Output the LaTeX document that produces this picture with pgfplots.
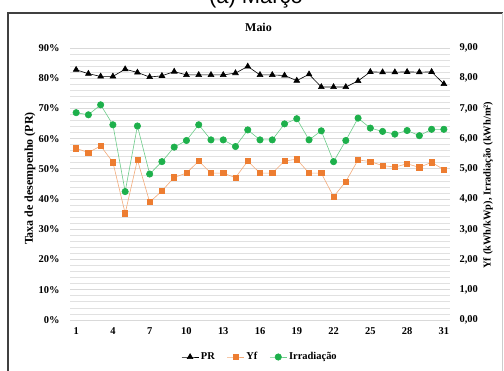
\documentclass[border=0pt]{standalone}
\usepackage{pgfplots}
\usepackage{pgfplotstable}
\pgfplotsset{compat=1.18}
\usepackage{fontspec}
\setmainfont{Liberation Serif}
\newfontfamily\arialfont{Liberation Sans}
\definecolor{cYf}{HTML}{ED7D31}
\definecolor{cIr}{HTML}{1DB04B}
\definecolor{gridc}{HTML}{D9D9D9}

\pgfplotstableread{
day pr yf irr
1 82.8 5.68 6.86
2 81.5 5.54 6.79
3 80.6 5.76 7.12
4 80.6 5.22 6.46
5 83.0 3.53 4.25
6 81.9 5.30 6.42
7 80.4 3.90 4.83
8 80.8 4.27 5.24
9 82.2 4.72 5.72
10 81.1 4.86 5.94
11 81.1 5.26 6.46
12 81.1 4.86 5.96
13 81.1 4.86 5.96
14 81.7 4.71 5.74
15 83.9 5.26 6.29
16 81.1 4.86 5.96
17 81.1 4.86 5.96
18 80.9 5.26 6.49
19 79.2 5.32 6.66
20 81.3 4.86 5.96
21 77.1 4.86 6.26
22 77.1 4.08 5.24
23 77.1 4.58 5.94
24 79.1 5.30 6.68
25 82.1 5.24 6.35
26 82.0 5.11 6.24
27 82.0 5.06 6.15
28 82.1 5.17 6.27
29 82.0 5.05 6.10
30 82.1 5.22 6.31
31 78.1 4.97 6.31
}\datatable

\pgfplotsset{
  base/.style={
    at={(70bp,50bp)}, anchor=south west, scale only axis,
    width=380bp, height=272bp, xmin=0.5, xmax=31.5,
    axis line style={draw=none}, major tick length=0pt, minor tick length=0pt,
    tick label style={font=\bfseries\fontsize{10.5}{12}\selectfont},
    /pgf/number format/assume math mode=true,
  }
}

\begin{document}
\begin{tikzpicture}[x=1bp,y=1bp]
\path[use as bounding box] (0,0) rectangle (504,370);
\node[font=\arialfont\fontsize{22}{24}\selectfont, anchor=base] at (256,366.5) {(a) Março};
\draw[line width=1.5bp, color=black!75] (8,-5) -- (8,357) -- (503,357);
\draw[line width=0.8bp, color=black!20] (502,357) -- (502,-5);
\node[font=\bfseries\fontsize{12}{14}\selectfont] at (258.5,343) {Maio};

\begin{axis}[base,
  ymin=0, ymax=90, ytick={0,10,...,90}, minor y tick num=4,
  ymajorgrids, yminorgrids,
  major grid style={gridc, line width=0.9bp},
  minor grid style={gridc!80, line width=0.8bp},
  yticklabel={\pgfmathprintnumber{\tick}\%},
  yticklabel style={xshift=-7bp},
  xtick={1,4,...,31},
  xticklabel style={yshift=-4bp},
  every axis y label/.style={at={(axis description cs:-0.105,0.52)}, anchor=center, rotate=90,
    font=\bfseries\fontsize{12}{14}\selectfont},
  ylabel={Taxa de desempenho (PR)},
]
\addplot[black, line width=0.6bp, mark=triangle*, mark size=3.3bp] table[x=day,y=pr]{\datatable};
\end{axis}

\begin{axis}[base,
  ymin=0, ymax=9, ytick={0,1,...,9},
  yticklabel pos=right,
  yticklabel style={xshift=6bp, /pgf/number format/.cd, fixed, fixed zerofill, precision=2, use comma},
  xtick=\empty,
  every axis y label/.style={at={(axis description cs:1.1,0.496)}, anchor=center, rotate=90,
    font=\bfseries\fontsize{10.5}{12}\selectfont},
  ylabel={Yf (kWh/kWp), Irradiação (kWh/m²)},
  legend style={at={(axis description cs:0.5,-0.136)}, anchor=center, draw=none, fill=none,
    legend columns=3, font=\bfseries\fontsize{10.5}{12}\selectfont,
    /tikz/every even column/.append style={column sep=10bp}},
]
\addlegendimage{black, line width=0.6bp, mark=triangle*, mark size=3.3bp}
\addlegendentry{PR}
\addplot[draw=cYf!65, line width=0.6bp, mark=square*, mark size=2.6bp, mark options={fill=cYf, draw=cYf}] table[x=day,y=yf]{\datatable};
\addlegendentry{Yf}
\addplot[draw=cIr!65, line width=0.6bp, mark=*, mark size=3.2bp, mark options={fill=cIr, draw=cIr}] table[x=day,y=irr]{\datatable};
\addlegendentry{Irradiação}
\end{axis}
\end{tikzpicture}
\end{document}
